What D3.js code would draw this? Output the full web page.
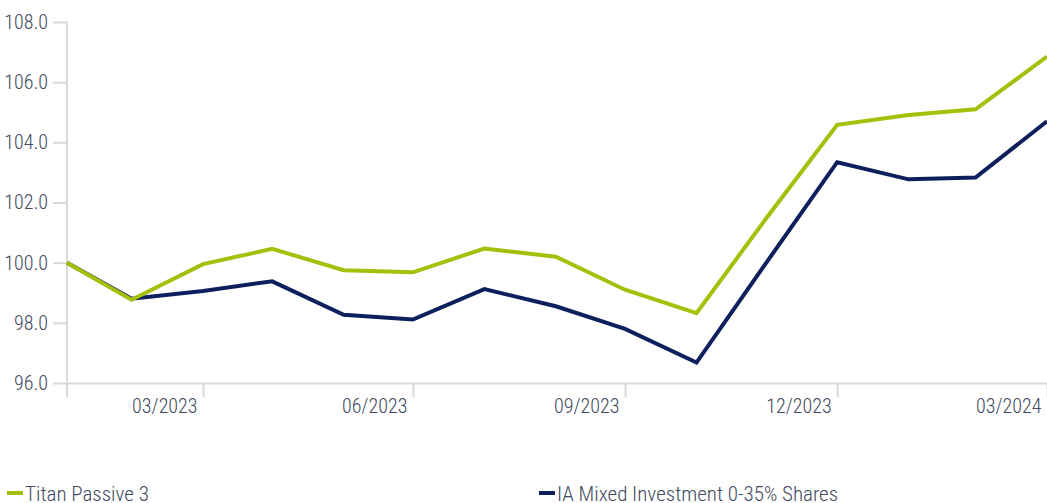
<!DOCTYPE html>
<html lang="en">
<head>
<meta charset="utf-8">
<title>Titan Passive 3 vs IA Mixed Investment 0-35% Shares</title>
<script src="https://d3js.org/d3.v7.min.js"></script>
<style>
  body { margin: 0; background: #fff; }
  text { font-family: "Liberation Sans Narrow", "Roboto Condensed", "DejaVu Sans Condensed", sans-serif; fill: #3e4a5e; font-weight: 300; }
</style>
</head>
<body>
<script>
// chart data (month-end values, rebased to 100)
var dates = ["2023-01-31", "2023-02-28", "2023-03-31", "2023-04-30", "2023-05-31", "2023-06-30", "2023-07-31",
             "2023-08-31", "2023-09-30", "2023-10-31", "2023-11-30", "2023-12-31", "2024-01-31", "2024-02-29", "2024-03-31"]
var titan = [100.0, 98.77, 99.95, 100.46, 99.75, 99.68, 100.47, 100.2, 99.1, 98.32, 101.45, 104.58, 104.91, 105.1, 106.85]
var iaMixed = [100.0, 98.8, 99.06, 99.38, 98.27, 98.11, 99.12, 98.55, 97.8, 96.68, 99.97, 103.34, 102.77, 102.83, 104.7]
var xTickDates = ["2023-03-31", "2023-06-30", "2023-09-30", "2023-12-31", "2024-03-31"]
var yTicks = [96, 98, 100, 102, 104, 106, 108]
var seriesNames = ["Titan Passive 3", "IA Mixed Investment 0-35% Shares"]
var colors = ["#a6bf0a", "#0d1f5c"]

var w = 1047, h = 503
var padLeft = 67, padRight = 1047, padTop = 22, padBottom = 383

var parse = d3.timeParse("%Y-%m-%d")
var days = dates.map(parse)

var svg = d3.select("body").append("svg")
  .attr("width", w)
  .attr("height", h)

var xScale = d3.scaleTime().domain(d3.extent(days)).range([padLeft, padRight])
var yScale = d3.scaleLinear().domain([96, 108]).range([padBottom, padTop])

// y axis
var yAxis = d3.axisLeft(yScale)
  .tickValues(yTicks)
  .tickFormat(d3.format(".1f"))
  .tickSize(14)
  .tickPadding(5)

var gy = svg.append("g")
  .attr("transform", "translate(" + padLeft + ",0)")
  .call(yAxis)
gy.select(".domain").remove()
gy.selectAll(".tick line").attr("stroke", "#d9d9d9").attr("stroke-width", 2)
gy.selectAll(".tick text").attr("font-size", 20).style("fill", "#3e4a5e")

// vertical axis line, running down past the x axis
svg.append("line")
  .attr("x1", padLeft).attr("x2", padLeft)
  .attr("y1", padTop).attr("y2", padBottom + 14)
  .attr("stroke", "#d9d9d9").attr("stroke-width", 2)

// x axis
var xAxis = d3.axisBottom(xScale)
  .tickValues(xTickDates.map(parse))
  .tickFormat(d3.timeFormat("%m/%Y"))
  .tickSize(14)
  .tickSizeOuter(0)
  .tickPadding(2)

var gx = svg.append("g")
  .attr("transform", "translate(0," + padBottom + ")")
  .call(xAxis)
gx.select(".domain").attr("stroke", "#d9d9d9").attr("stroke-width", 2)
gx.selectAll(".tick line").attr("stroke", "#d9d9d9").attr("stroke-width", 2)
gx.selectAll(".tick text")
  .attr("font-size", 20)
  .attr("text-anchor", "end")
  .attr("dx", -6)
  .style("fill", "#3e4a5e")

// lines
var line = d3.line()
  .x(function(d, i){ return xScale(days[i]) })
  .y(function(d){ return yScale(d) })

// navy first so green sits on top at the shared start
svg.append("path")
  .datum(iaMixed)
  .attr("d", line)
  .attr("fill", "none")
  .attr("stroke", colors[1])
  .attr("stroke-width", 4)
  .attr("stroke-linejoin", "miter")

svg.append("path")
  .datum(titan)
  .attr("d", line)
  .attr("fill", "none")
  .attr("stroke", colors[0])
  .attr("stroke-width", 4)
  .attr("stroke-linejoin", "miter")

// legend
var legendX = [7, 539]
var legend = svg.selectAll(".legend")
  .data(seriesNames)
  .enter()
  .append("g")
  .attr("class", "legend")
  .attr("transform", function(d, i){ return "translate(" + legendX[i] + ",0)" })

legend.append("rect")
  .attr("x", 0).attr("y", 491)
  .attr("width", 16).attr("height", 4)
  .attr("fill", function(d, i){ return colors[i] })

legend.append("text")
  .attr("x", 18).attr("y", 501)
  .attr("font-size", 21)
  .text(function(d){ return d })
</script>
</body>
</html>
